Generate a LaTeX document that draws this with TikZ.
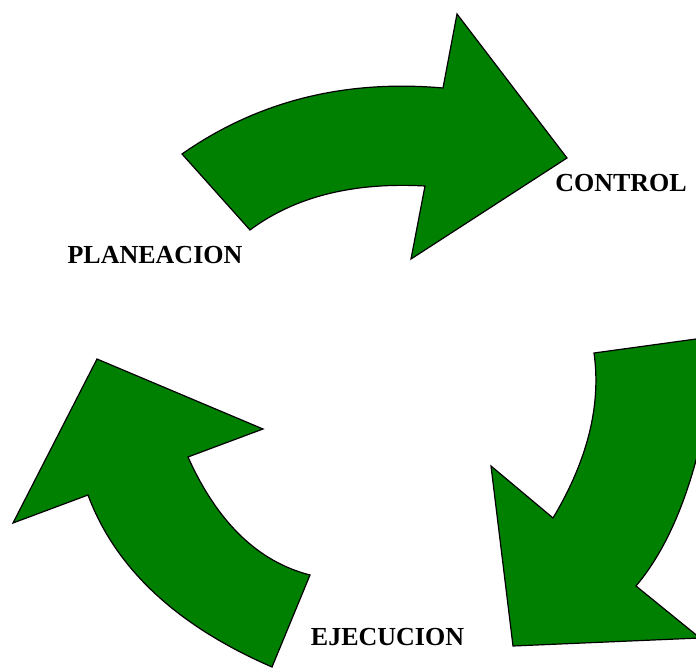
\documentclass[tikz,border=0pt]{standalone}
\usepackage{fontspec}
\setmainfont{Liberation Serif}
\begin{document}
\begin{tikzpicture}[x=1pt,y=-1pt,
  arrowshape/.style={fill={rgb,255:red,0;green,128;blue,0}, draw=black, line width=1.2pt, line join=miter},
  lbl/.style={font=\fontsize{26}{30}\selectfont\bfseries, inner sep=0pt}]
\useasboundingbox (0,0) rectangle (696,668);
\begin{scope}
\clip (0,0) rectangle (696,668);
% top arrow
\draw[arrowshape] (182,154) .. controls (257.3,101.3) and (344.3,79.3) .. (443,88) -- (457,14) -- (567,158) -- (411,259) -- (425,186)
  .. controls (353,182) and (294.7,196.7) .. (250,230) -- cycle;
% right arrow
\draw[arrowshape] (594,353) -- (718,336) .. controls (706,452) and (678.7,535.3) .. (636,586) -- (700,638) -- (513,646) -- (491,466) -- (553,518)
  .. controls (587.7,460) and (601.3,405) .. (594,353) -- cycle;
% left arrow
\draw[arrowshape] (272,667) .. controls (176.7,625.7) and (115.3,568.3) .. (88,495) -- (13,523) -- (97,359) -- (263,429) -- (188,457)
  .. controls (217.3,522.3) and (258,561.7) .. (310,575) -- cycle;
\end{scope}
\node[lbl] (control) at (621,183) {CONTROL};
\node[lbl] (plan) at (155,255) {PLANEACION};
\node[lbl] (ejec) at (387.5,637) {EJECUCION};
\end{tikzpicture}
\end{document}
